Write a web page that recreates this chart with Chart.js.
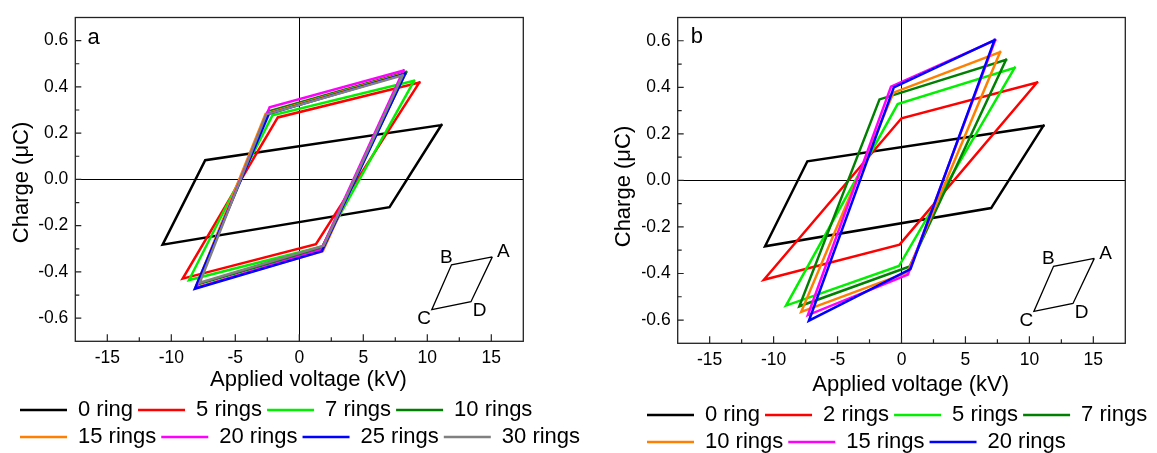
<!DOCTYPE html>
<html>
<head>
<meta charset="utf-8">
<script src="https://cdn.jsdelivr.net/npm/chart.js@4.4.1/dist/chart.umd.min.js"></script>
<style>
  html, body { margin: 0; padding: 0; background: #fff; overflow: hidden; }
  body { width: 1157px; height: 453px; position: relative; }
  canvas { position: absolute; top: 0; }
  #graficoA { left: 0; }
  #graficoB { left: 596px; }
</style>
</head>
<body>
<canvas id="graficoA" width="600" height="458"></canvas>
<canvas id="graficoB" width="575" height="463"></canvas>
<script>
// ============================================
// Dados - Q-V (Lissajous), vértices A, B, C, D, A
// ============================================

// Painel a
const seriesA = ['0 ring', '5 rings', '7 rings', '10 rings', '15 rings', '20 rings', '25 rings', '30 rings'];
const coresA = ['#000000', '#ff0000', '#00f000', '#008000', '#ff8000', '#ff00ff', '#0000ff', '#808080'];
const voltageA = [
    [11.1, -7.35, -10.68, 7.05, 11.1],
    [9.38, -1.68, -9.11, 1.3, 9.38],
    [8.96, -2.1, -8.62, 1.8, 8.96],
    [8.35, -2.45, -8.0, 1.75, 8.35],
    [8.1, -2.63, -8.1, 1.84, 8.1],
    [8.14, -2.32, -8.04, 1.7, 8.14],
    [8.27, -2.37, -8.16, 1.76, 8.27],
    [8.08, -2.58, -7.78, 1.9, 8.08]
];
const chargeA = [
    [0.235, 0.083, -0.282, -0.12, 0.235],
    [0.419, 0.268, -0.429, -0.28, 0.419],
    [0.426, 0.277, -0.435, -0.29, 0.426],
    [0.464, 0.293, -0.455, -0.298, 0.464],
    [0.457, 0.284, -0.468, -0.311, 0.457],
    [0.471, 0.312, -0.469, -0.305, 0.471],
    [0.457, 0.284, -0.473, -0.311, 0.457],
    [0.45, 0.281, -0.447, -0.287, 0.45]
];

// Painel b
const seriesB = ['0 ring', '2 rings', '5 rings', '7 rings', '10 rings', '15 rings', '20 rings'];
const coresB = ['#000000', '#ff0000', '#00f000', '#008000', '#ff8000', '#ff00ff', '#0000ff'];
const voltageB = [
    [11.1, -7.36, -10.67, 7.01, 11.1],
    [10.6, 0.0, -10.76, -0.15, 10.6],
    [8.85, -0.3, -9.03, -0.2, 8.85],
    [8.17, -1.72, -7.99, 0.64, 8.17],
    [7.71, -0.63, -7.84, 0.48, 7.71],
    [7.33, -0.82, -7.32, 0.5, 7.33],
    [7.27, -0.6, -7.24, 0.7, 7.27]
];
const chargeB = [
    [0.235, 0.082, -0.283, -0.119, 0.235],
    [0.421, 0.267, -0.427, -0.276, 0.421],
    [0.484, 0.328, -0.538, -0.368, 0.484],
    [0.518, 0.348, -0.541, -0.37, 0.518],
    [0.551, 0.377, -0.565, -0.395, 0.551],
    [0.603, 0.403, -0.579, -0.405, 0.603],
    [0.603, 0.4, -0.603, -0.381, 0.603]
];

// Esquema ABCD (igual nos dois painéis)
const insetVoltage = [15.08, 11.89, 10.35, 13.41, 15.08];
const insetCharge = [-0.335, -0.369, -0.563, -0.529, -0.335];
const insetLetras = ['A', 'B', 'C', 'D'];
const insetLetraV = [15.95, 11.49, 9.76, 14.08];
const insetLetraQ = [-0.314, -0.338, -0.603, -0.568];

// Eixos
const xMajor = [-15, -10, -5, 0, 5, 10, 15];
const xTickLabels = ['-15', '-10', '-5', '0', '5', '10', '15'];
const yMajor = [-0.6, -0.4, -0.2, 0.0, 0.2, 0.4, 0.6];
const yTickLabels = ['-0.6', '-0.4', '-0.2', '0.0', '0.2', '0.4', '0.6'];

const FONTE = '"Liberation Sans", Arial, sans-serif';

const indiceMajor = (lista, v) => lista.findIndex(m => Math.abs(m - v) < 1e-9);

// Moldura, marcas de escala para dentro, letra do painel e letras do esquema
const molduraPlugin = {
    id: 'moldura',
    afterDraw(chart, args, opts) {
        const { ctx, chartArea: a, scales: { x, y } } = chart;
        ctx.save();
        ctx.strokeStyle = '#222';
        ctx.lineWidth = 1.3;
        ctx.strokeRect(a.left, a.top, a.right - a.left, a.bottom - a.top);

        ctx.lineWidth = 1.2;
        ctx.beginPath();
        x.ticks.forEach(t => {
            if (t.value <= x.min + 1e-9 || t.value >= x.max - 1e-9) return;
            const px = x.getPixelForValue(t.value);
            const len = indiceMajor(xMajor, t.value) >= 0 ? 7 : 4;
            ctx.moveTo(px, a.bottom);
            ctx.lineTo(px, a.bottom - len);
        });
        y.ticks.forEach(t => {
            if (t.value <= y.min + 1e-9 || t.value >= y.max - 1e-9) return;
            const py = y.getPixelForValue(t.value);
            const len = indiceMajor(yMajor, t.value) >= 0 ? 6 : 4;
            ctx.moveTo(a.left, py);
            ctx.lineTo(a.left + len, py);
        });
        ctx.stroke();

        ctx.fillStyle = '#000';
        ctx.font = '22px ' + FONTE;
        ctx.textAlign = 'left';
        ctx.textBaseline = 'alphabetic';
        ctx.fillText(opts.letra, a.left + opts.letraX, a.top + opts.letraY);

        ctx.font = '19px ' + FONTE;
        ctx.textAlign = 'center';
        ctx.textBaseline = 'middle';
        insetLetras.forEach((l, i) => {
            ctx.fillText(l, x.getPixelForValue(insetLetraV[i]), y.getPixelForValue(insetLetraQ[i]));
        });
        ctx.restore();
    }
};

function criarGrafico(id, cfg) {
    const datasets = cfg.series.map((nome, i) => ({
        label: nome,
        data: cfg.voltage[i].map((v, k) => ({ x: v, y: cfg.charge[i][k] })),
        borderColor: cfg.cores[i],
        backgroundColor: cfg.cores[i],
        borderWidth: 2.5,
        borderCapStyle: 'square',
        showLine: true,
        pointRadius: 0,
        order: cfg.series.length - i
    }));
    datasets.push({
        label: 'inset',
        data: insetVoltage.map((v, k) => ({ x: v, y: insetCharge[k] })),
        borderColor: '#000',
        borderWidth: 1.3,
        showLine: true,
        pointRadius: 0,
        order: 99
    });

    return new Chart(document.getElementById(id), {
        type: 'scatter',
        data: { datasets },
        plugins: [molduraPlugin],
        options: {
            responsive: false,
            animation: false,
            devicePixelRatio: 1,
            layout: { padding: { left: cfg.padEsq, top: cfg.padTopo, right: 0, bottom: 0 } },
            scales: {
                x: {
                    type: 'linear', min: -17.5, max: 17.5,
                    ticks: {
                        stepSize: 2.5, autoSkip: false, maxRotation: 0, padding: 6, color: '#000',
                        font: { size: 17.5, family: FONTE },
                        callback: v => { const i = indiceMajor(xMajor, v); return i >= 0 ? xTickLabels[i] : ''; }
                    },
                    grid: {
                        drawTicks: false, lineWidth: 1,
                        color: c => (c.tick && Math.abs(c.tick.value) < 1e-9) ? '#000' : 'rgba(0,0,0,0)'
                    },
                    border: { display: false },
                    title: {
                        display: true, text: cfg.tituloX, color: '#000',
                        font: { size: 22, family: FONTE, lineHeight: 1 },
                        padding: { top: 0, bottom: cfg.tituloXBaixo }
                    },
                    afterFit: s => { s.height = cfg.alturaX; }
                },
                y: {
                    type: 'linear', min: -0.7, max: 0.7,
                    ticks: {
                        stepSize: 0.1, autoSkip: false, padding: 7, color: '#000',
                        font: { size: 17.5, family: FONTE },
                        callback: v => { const i = indiceMajor(yMajor, v); return i >= 0 ? yTickLabels[i] : ''; }
                    },
                    grid: {
                        drawTicks: false, lineWidth: 1,
                        color: c => (c.tick && Math.abs(c.tick.value) < 1e-9) ? '#000' : 'rgba(0,0,0,0)'
                    },
                    border: { display: false },
                    title: {
                        display: true, text: cfg.tituloY, color: '#000',
                        font: { size: 22, family: FONTE, lineHeight: 1 },
                        padding: { top: cfg.tituloYTopo, bottom: 0 }
                    },
                    afterFit: s => { s.width = cfg.larguraY; }
                },
                y2: {
                    position: 'right', display: true,
                    ticks: { display: false },
                    grid: { display: false, drawTicks: false },
                    border: { display: false },
                    afterFit: s => { s.width = cfg.larguraDir; }
                }
            },
            plugins: {
                tooltip: { enabled: false },
                moldura: { letra: cfg.letra, letraX: cfg.letraX, letraY: cfg.letraY },
                legend: {
                    position: 'bottom',
                    align: 'start',
                    labels: {
                        usePointStyle: true,
                        pointStyle: 'line',
                        pointStyleWidth: 47,
                        padding: 5,
                        color: '#000',
                        font: { size: 22, family: FONTE },
                        filter: it => it.text !== 'inset',
                        sort: (a, b) => a.datasetIndex - b.datasetIndex
                    }
                }
            }
        }
    });
}

criarGrafico('graficoA', {
    series: seriesA, cores: coresA, voltage: voltageA, charge: chargeA,
    padEsq: 15, padTopo: 11.7, larguraY: 60.3, larguraDir: 76.7, alturaX: 52.7,
    tituloX: '   Applied voltage (kV)', tituloXBaixo: 3.3,
    tituloY: 'Charge (μC) ', tituloYTopo: -3.6,
    letra: 'a', letraX: 12.3, letraY: 26.6
});

criarGrafico('graficoB', {
    series: seriesB, cores: coresB, voltage: voltageB, charge: chargeB,
    padEsq: 46, padTopo: 14, larguraY: 35.7, larguraDir: 45.7, alturaX: 55.7,
    tituloX: '   Applied voltage (kV)', tituloXBaixo: 2.9,
    tituloY: 'Charge (μC)  ', tituloYTopo: -29.5,
    letra: 'b', letraX: 13, letraY: 25.3
});
</script>
</body>
</html>
